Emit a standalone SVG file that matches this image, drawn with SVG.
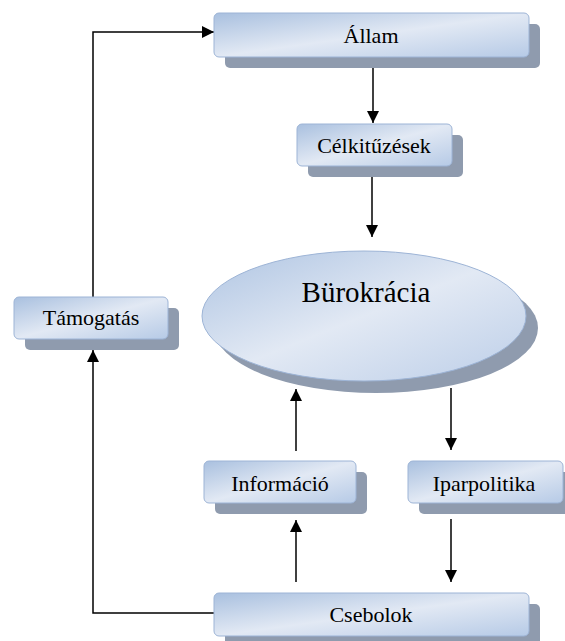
<svg xmlns="http://www.w3.org/2000/svg" width="565" height="641" viewBox="0 0 565 641">
<defs>
<linearGradient id="boxGrad" x1="0" y1="0" x2="1" y2="1">
<stop offset="0" stop-color="#a9c0df"/>
<stop offset="0.5" stop-color="#e2e9f4"/>
<stop offset="1" stop-color="#b6cae6"/>
</linearGradient>
<linearGradient id="ellGrad" x1="0" y1="0" x2="1" y2="1">
<stop offset="0" stop-color="#aec4e2"/>
<stop offset="0.5" stop-color="#e2e9f4"/>
<stop offset="1" stop-color="#bccee8"/>
</linearGradient>
<marker id="arrow" markerUnits="userSpaceOnUse" markerWidth="12" markerHeight="12" refX="12" refY="6" orient="auto">
<path d="M0,0 L12,6 L0,12 Z" fill="#000"/>
</marker>
</defs>
<style>
.shadow{fill:#8f9bae}
.box{fill:url(#boxGrad);stroke:#9db4d6;stroke-width:1}
text{font-family:'Liberation Serif','Times New Roman',serif;font-size:22px;fill:#000;text-anchor:middle}
.big{font-size:29px}
.conn{fill:none;stroke:#000;stroke-width:1.5;marker-end:url(#arrow)}
</style>
<g id="connectors">
<path class="conn" d="M93,297 V32 H214"/>
<path class="conn" d="M373,57 V123"/>
<path class="conn" d="M372,166 V237"/>
<path class="conn" d="M451,388 V450"/>
<path class="conn" d="M296,451 V389"/>
<path class="conn" d="M296,582 V520"/>
<path class="conn" d="M451,519 V582"/>
<path class="conn" d="M214,613 H93 V350"/>
</g>
<g id="allam">
<rect class="shadow" x="225" y="24" width="315" height="44" rx="5"/>
<rect class="box" x="214" y="13" width="315" height="44" rx="5"/>
<text font-family="Liberation Serif, serif" x="371" y="43">Állam</text>
</g>
<g id="celkituzesek">
<rect class="shadow" x="308" y="135" width="155" height="42" rx="5"/>
<rect class="box" x="297" y="124" width="155" height="42" rx="5"/>
<text font-family="Liberation Serif, serif" x="374" y="153">Célkitűzések</text>
</g>
<g id="burokracia">
<ellipse class="shadow" cx="376" cy="328" rx="162" ry="65"/>
<ellipse cx="364" cy="316" rx="162" ry="65" fill="url(#ellGrad)" stroke="#9db4d6" stroke-width="1"/>
<text class="big" font-family="Liberation Serif, serif" x="366" y="302">Bürokrácia</text>
</g>
<g id="tamogatas">
<rect class="shadow" x="25" y="308" width="154" height="42" rx="5"/>
<rect class="box" x="14" y="297" width="154" height="42" rx="5"/>
<text font-family="Liberation Serif, serif" x="91" y="325">Támogatás</text>
</g>
<g id="informacio">
<rect class="shadow" x="215" y="472" width="152" height="42" rx="5"/>
<rect class="box" x="204" y="461" width="152" height="42" rx="5"/>
<text font-family="Liberation Serif, serif" x="280" y="491">Információ</text>
</g>
<g id="iparpolitika">
<rect class="shadow" x="419" y="472" width="155" height="42" rx="5"/>
<rect class="box" x="408" y="461" width="155" height="42" rx="5"/>
<text font-family="Liberation Serif, serif" x="484" y="491">Iparpolitika</text>
</g>
<g id="csebolok">
<rect class="shadow" x="225" y="604" width="315" height="43" rx="5"/>
<rect class="box" x="214" y="593" width="315" height="43" rx="5"/>
<text font-family="Liberation Serif, serif" x="371" y="622">Csebolok</text>
</g>
</svg>
